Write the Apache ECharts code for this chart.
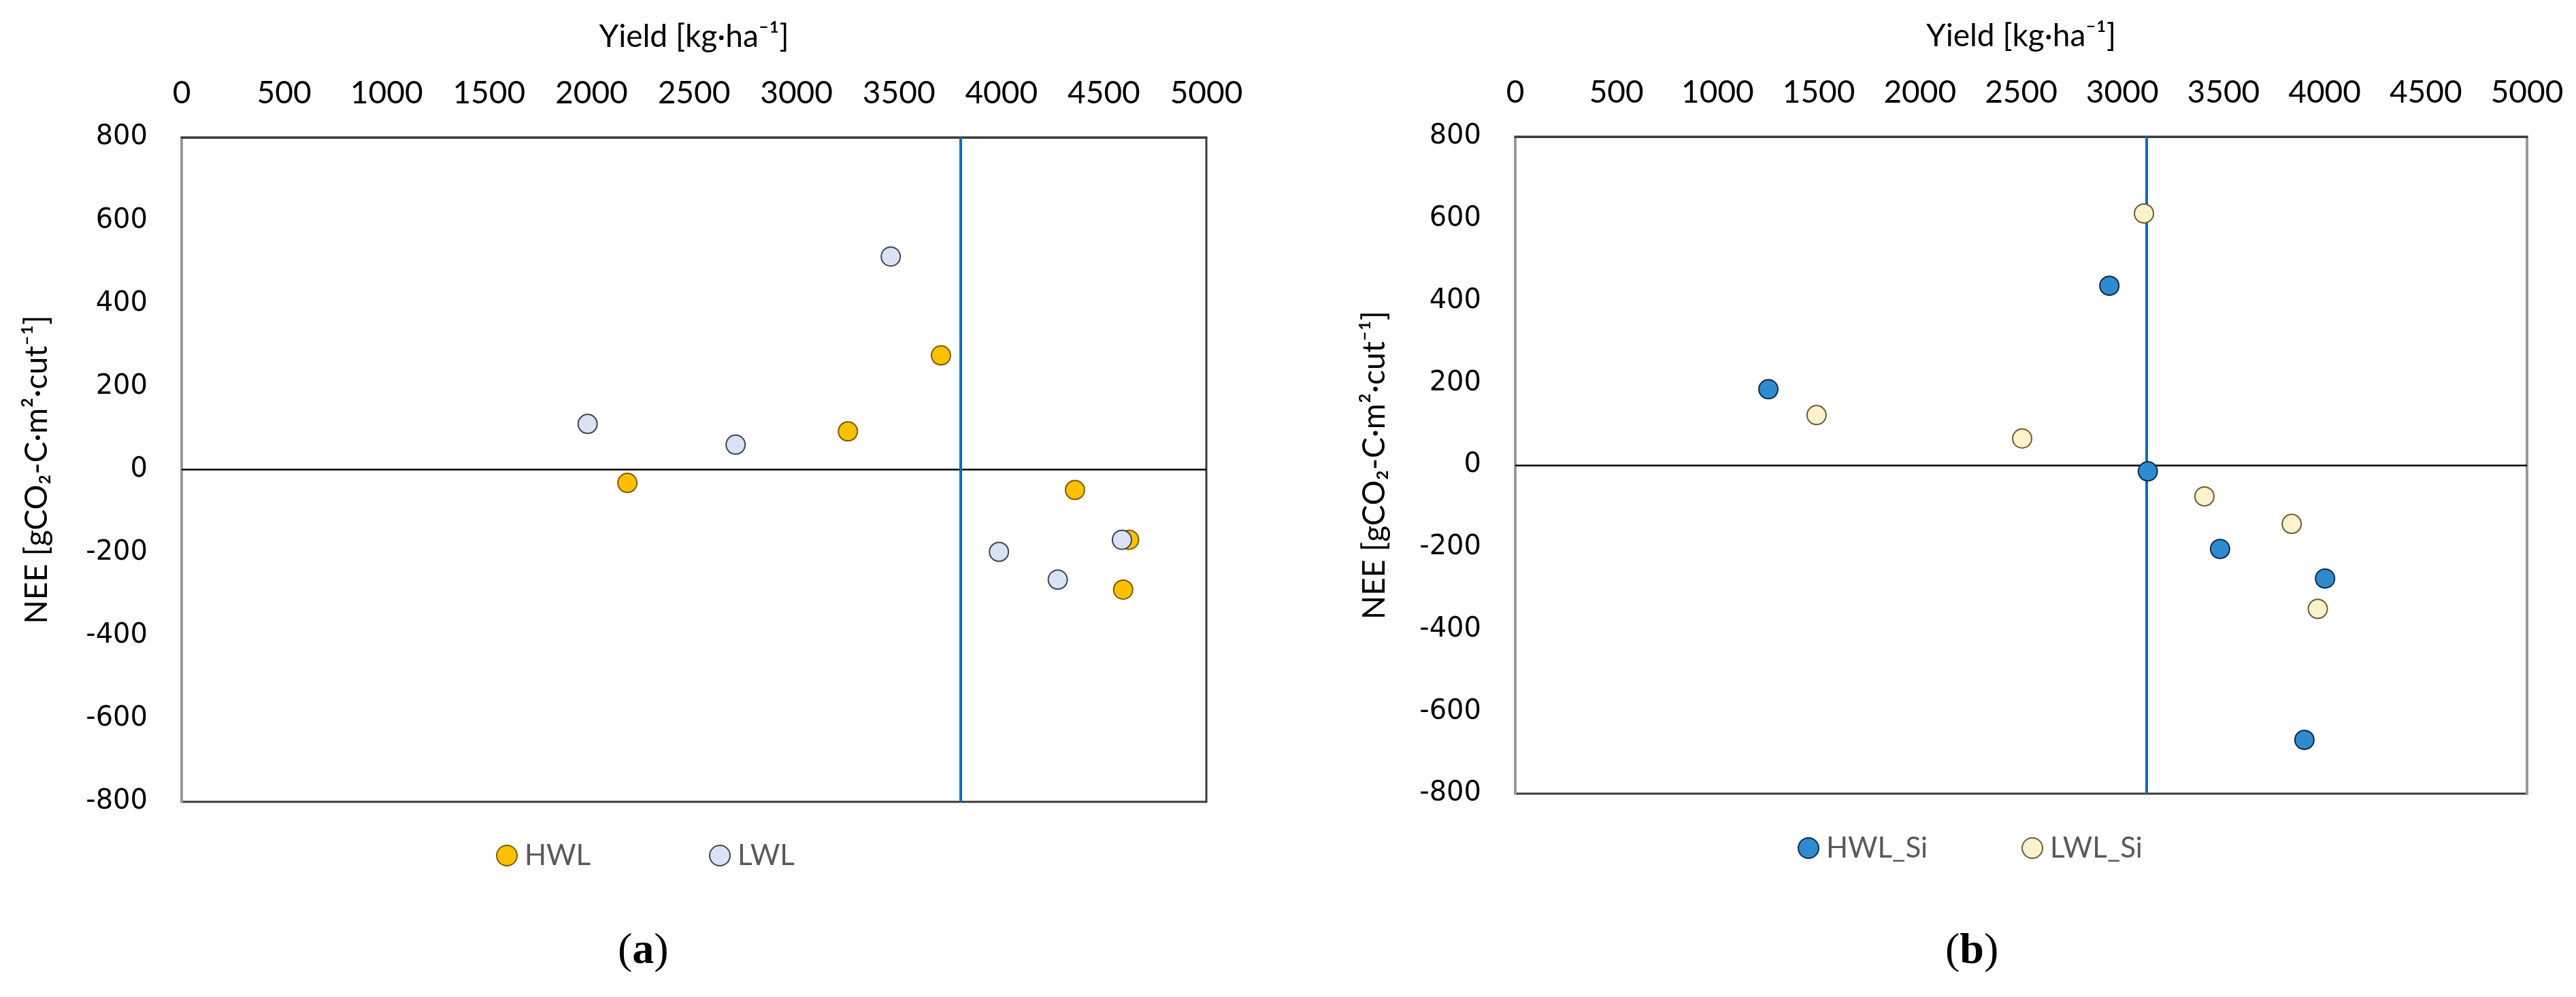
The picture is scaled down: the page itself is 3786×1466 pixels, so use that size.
<!DOCTYPE html>
<html>
<head>
<meta charset="utf-8">
<script src="https://cdn.jsdelivr.net/npm/echarts@6/dist/echarts.min.js"></script>
<style>
html,body{margin:0;padding:0;background:#fff;}
#chart{width:3786px;height:1466px;}
</style>
</head>
<body>
<div id="chart"></div>
<script>
// ---- data ----
const xTickValues = [0, 500, 1000, 1500, 2000, 2500, 3000, 3500, 4000, 4500, 5000];
const yTickValues = [-800, -600, -400, -200, 0, 200, 400, 600, 800];

const seriesNames = ['HWL', 'LWL', 'HWL_Si', 'LWL_Si'];

const hwlYield = [2175, 3251, 3705, 4359, 4623, 4594];
const hwlNEE   = [-32, 92, 275, -49, -169, -289];
const lwlYield = [1981, 2703, 3460, 3988, 4275, 4588];
const lwlNEE   = [110, 60, 513, -198, -265, -169];

const hwlSiYield = [1251, 2936, 3126, 3483, 4002, 3900];
const hwlSiNEE   = [185, 437, -15, -204, -276, -669];
const lwlSiYield = [1489, 2505, 3107, 3406, 3837, 3966];
const lwlSiNEE   = [122, 65, 613, -76, -143, -350];

const refYieldA = 3800;
const refYieldB = 3120;
const refNEE = 0;

const xTitle = 'Yield [kg·ha⁻¹]';
const yTitle = 'NEE [gCO₂-C·m²·cut⁻¹]';

// ---- build ----
const pairs = (xs, ys) => xs.map((x, i) => [x, ys[i]]);
const xMin = xTickValues[0], xMax = xTickValues[xTickValues.length - 1], xStep = xTickValues[1] - xTickValues[0];
const yMin = yTickValues[0], yMax = yTickValues[yTickValues.length - 1], yStep = yTickValues[1] - yTickValues[0];

const FONT = 'Lato';
const NARROW = "'Liberation Sans Narrow', 'Arial Narrow', Lato";
const styles = {
  HWL:    {color: '#FFC000', borderColor: '#7A5C00'},
  LWL:    {color: '#DAE3F3', borderColor: '#3E4652'},
  HWL_Si: {color: '#2E8BCF', borderColor: '#0E2B47'},
  LWL_Si: {color: '#FFF2CC', borderColor: '#6E5B3A'}
};

function xAxis(gridIndex) {
  return {
    type: 'value', gridIndex, position: 'top', min: xMin, max: xMax, interval: xStep,
    name: xTitle, nameLocation: 'middle', nameGap: 125,
    nameTextStyle: {fontFamily: NARROW, fontSize: 46, color: '#000'},
    axisLine: {show: true, onZero: false, lineStyle: {color: '#3a3a3a', width: 3}},
    axisTick: {show: false},
    splitLine: {show: false},
    axisLabel: {fontFamily: NARROW, fontSize: 46, color: '#000', margin: 42,
      formatter: v => String(v)}
  };
}
function yAxis(gridIndex, gap) {
  return {
    type: 'value', gridIndex, position: 'left', min: yMin, max: yMax, interval: yStep,
    name: yTitle, nameLocation: 'middle', nameGap: gap, nameRotate: 90,
    nameTextStyle: {fontFamily: FONT, fontSize: 46, color: '#000'},
    axisLine: {show: true, onZero: false, lineStyle: {color: '#9a9a9a', width: 4}},
    axisTick: {show: false},
    splitLine: {show: false},
    axisLabel: {fontFamily: 'DejaVu Sans', fontSize: 40, color: '#000', margin: 50,
      formatter: v => String(v)}
  };
}

function scatter(name, xi, xs, ys) {
  return {
    name, type: 'scatter', xAxisIndex: xi, yAxisIndex: xi, z: 5,
    symbol: 'circle', symbolSize: 28,
    itemStyle: Object.assign({borderWidth: 2, opacity: 1}, styles[name]),
    data: pairs(xs, ys)
  };
}
function refLines(xi, refX) {
  return {
    type: 'scatter', xAxisIndex: xi, yAxisIndex: xi, z: 2, data: [], silent: true,
    markLine: {
      symbol: 'none', silent: true, animation: false, label: {show: false},
      data: [
        {yAxis: refNEE, lineStyle: {color: '#000', width: 2.5, type: 'solid'}},
        {xAxis: refX, lineStyle: {color: '#0070C0', width: 4, type: 'solid'}}
      ]
    }
  };
}
function legend(name, left, top) {
  return {
    data: [name], left, top, padding: 0, itemWidth: 30, itemHeight: 30, icon: 'circle',
    selectedMode: false,
    textStyle: {fontFamily: FONT, fontSize: 42, color: '#595959', padding: [0, 0, 0, 6]}
  };
}

const option = {
  backgroundColor: '#fff',
  animation: false,
  grid: [
    {left: 267, top: 202, width: 1506, height: 977, show: true, borderColor: '#3a3a3a', borderWidth: 3, backgroundColor: 'transparent'},
    {left: 2227, top: 201, width: 1487, height: 966, show: true, borderColor: '#3a3a3a', borderWidth: 3, backgroundColor: 'transparent'}
  ],
  xAxis: [xAxis(0), xAxis(1)],
  yAxis: [yAxis(0, 190), yAxis(1, 184),
    {type: 'value', gridIndex: 1, position: 'right', min: yMin, max: yMax, interval: yStep,
     axisLine: {show: true, onZero: false, lineStyle: {color: '#9a9a9a', width: 4}},
     axisTick: {show: false}, axisLabel: {show: false}, splitLine: {show: false}}
  ],
  legend: [
    legend('HWL', 729, 1237),
    legend('LWL', 1042, 1237),
    legend('HWL_Si', 2642, 1226),
    legend('LWL_Si', 2971, 1226)
  ],
  graphic: [
    {type: 'text', left: 944, top: 1407, style: {text: '{p|(}{b|a}{p|)}', rich: {
      p: {fontFamily: 'Liberation Serif', fontSize: 64, fill: '#000'},
      b: {fontFamily: 'Liberation Serif', fontSize: 64, fontWeight: 'bold', fill: '#000'}}}},
    {type: 'text', left: 2895, top: 1407, style: {text: '{p|(}{b|b}{p|)}', rich: {
      p: {fontFamily: 'Liberation Serif', fontSize: 64, fill: '#000'},
      b: {fontFamily: 'Liberation Serif', fontSize: 64, fontWeight: 'bold', fill: '#000'}}}}
  ],
  series: [
    refLines(0, refYieldA),
    refLines(1, refYieldB),
    scatter('HWL', 0, hwlYield, hwlNEE),
    scatter('LWL', 0, lwlYield, lwlNEE),
    scatter('HWL_Si', 1, hwlSiYield, hwlSiNEE),
    scatter('LWL_Si', 1, lwlSiYield, lwlSiNEE)
  ]
};
option.graphic.forEach(g => { g.left = g.left - 36; g.top = g.top - 40; });

const chart = echarts.init(document.getElementById('chart'), null, {renderer: 'canvas'});
chart.setOption(option);
</script>
</body>
</html>
